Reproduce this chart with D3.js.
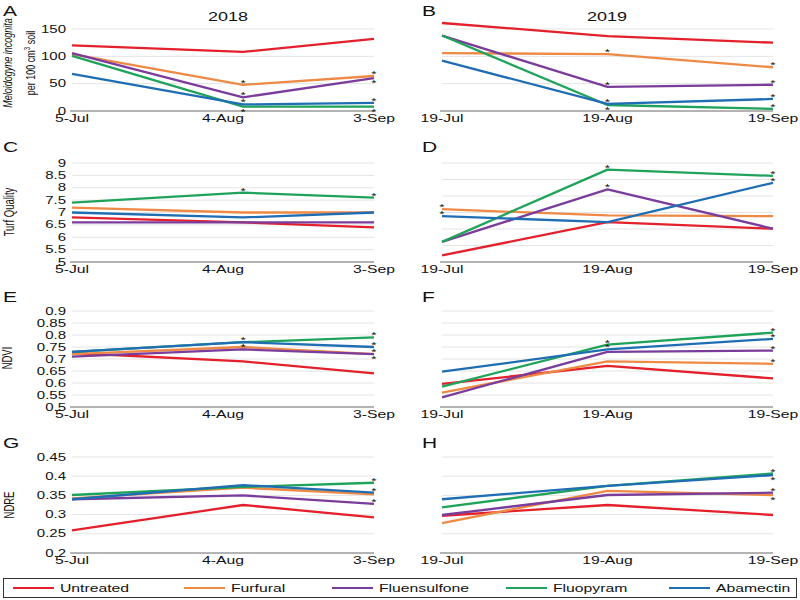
<!DOCTYPE html>
<html>
<head>
<meta charset="utf-8">
<script src="https://cdn.jsdelivr.net/npm/d3@7"></script>
<style>
  body { margin: 0; background: #fff; }
  svg { display: block; font-family: "Liberation Sans", Arial, sans-serif; }
</style>
</head>
<body>
<div id="chart"></div>
<script>
// treatments, drawn in this order
const treatments = ["Untreated", "Furfural", "Fluensulfone", "Fluopyram", "Abamectin"];
const colors = ["#e3202b", "#ee8a46", "#7a3d9b", "#1fa35a", "#1f6eb4"];

// sampling dates (tick labels) and day offsets of the samplings
const dates2018 = ["5-Jul", "4-Aug", "3-Sep"];
const dates2019 = ["19-Jul", "19-Aug", "19-Sep"];
const sampleDay2018 = [0, 34, 60];
const sampleDay2019 = [0, 31, 62];

// values per treatment (rows in treatment order)
const nematode2018 = [[120, 108, 132], [104, 48, 64], [106, 25, 60], [101, 8, 8], [68, 12, 15]];
const nematode2019 = [[161, 137, 125], [106, 104, 80], [138, 44, 48], [138, 11, 4], [92, 13, 22]];
const turf2018 = [[6.8, 6.6, 6.4], [7.2, 7.0, 7.0], [6.6, 6.6, 6.6], [7.4, 7.8, 7.6], [7.0, 6.8, 7.0]];
const turf2019 = [[5.2, 6.21, 6.01], [6.6, 6.41, 6.39], [5.61, 7.2, 6.01], [5.61, 7.8, 7.61], [6.39, 6.21, 7.4]];
const ndvi2018 = [[0.725, 0.69, 0.64], [0.72, 0.75, 0.72], [0.71, 0.74, 0.72], [0.73, 0.77, 0.79], [0.73, 0.77, 0.75]];
const ndvi2019 = [[0.596, 0.671, 0.619], [0.56, 0.69, 0.68], [0.54, 0.73, 0.735], [0.585, 0.76, 0.81], [0.647, 0.74, 0.784]];
const ndre2018 = [[0.259, 0.325, 0.293], [0.342, 0.37, 0.353], [0.34, 0.35, 0.328], [0.351, 0.372, 0.383], [0.34, 0.377, 0.357]];
const ndre2019 = [[0.297, 0.325, 0.299], [0.278, 0.362, 0.351], [0.299, 0.351, 0.357], [0.319, 0.375, 0.407], [0.34, 0.375, 0.403]];

// significance marks: [treatment, sampling, side (-1 above the line, 1 below)]
const nematodeStars2018 = [[1, 1, -1], [2, 1, -1], [4, 1, -1], [3, 1, 1], [1, 2, -1], [2, 2, 1], [4, 2, -1], [3, 2, 1]];
const nematodeStars2019 = [[1, 1, -1], [2, 1, -1], [4, 1, -1], [3, 1, 1], [1, 2, -1], [2, 2, -1], [4, 2, -1], [3, 2, -1]];
const turfStars2018 = [[3, 1, -1], [3, 2, -1]];
const turfStars2019 = [[1, 0, -1], [4, 0, -1], [3, 1, -1], [2, 1, -1], [3, 2, -1], [4, 2, -1]];
const ndviStars2018 = [[4, 1, -1], [2, 1, -1], [3, 2, -1], [4, 2, -1], [1, 2, -1], [2, 2, 1]];
const ndviStars2019 = [[3, 1, -1], [4, 1, -1], [3, 2, -1], [4, 2, -1], [2, 2, -1], [1, 2, -1]];
const ndreStars2018 = [[3, 2, -1], [4, 2, -1], [2, 2, -1]];
const ndreStars2019 = [[3, 2, -1], [4, 2, 1], [2, 2, -1], [1, 2, 1]];

const nematodeTicks = [0, 50, 100, 150];
const turfTicks = [5, 5.5, 6, 6.5, 7, 7.5, 8, 8.5, 9];
const turfTicks2019 = [5, 5.5, 6, 6.5, 7, 7.5, 8];
const ndviTicks = [0.5, 0.55, 0.6, 0.65, 0.7, 0.75, 0.8, 0.85, 0.9];
const ndreTicks = [0.2, 0.25, 0.3, 0.35, 0.4, 0.45];

const W = 800, H = 600;
const SX = 1.5; // the figure is stretched horizontally

const svg = d3.select("#chart").append("svg").attr("width", W).attr("height", H);

const columns = [
  { range: [72, 374], dates: dates2018, days: sampleDay2018, letterX: 3, showY: true },
  { range: [442, 773], dates: dates2019, days: sampleDay2019, letterX: 422, showY: false }
];

const rows = [
  { top: 29, bottom: 111, letterY: 16, panels: [
    { id: "A", values: nematode2018, stars: nematodeStars2018, ticks: nematodeTicks },
    { id: "B", values: nematode2019, stars: nematodeStars2019, ticks: nematodeTicks } ] },
  { top: 163, bottom: 262, letterY: 152, panels: [
    { id: "C", values: turf2018, stars: turfStars2018, ticks: turfTicks },
    { id: "D", values: turf2019, stars: turfStars2019, ticks: turfTicks2019 } ] },
  { top: 311, bottom: 407, letterY: 302, panels: [
    { id: "E", values: ndvi2018, stars: ndviStars2018, ticks: ndviTicks },
    { id: "F", values: ndvi2019, stars: ndviStars2019, ticks: ndviTicks } ] },
  { top: 457, bottom: 553, letterY: 448, panels: [
    { id: "G", values: ndre2018, stars: ndreStars2018, ticks: ndreTicks },
    { id: "H", values: ndre2019, stars: ndreStars2019, ticks: ndreTicks } ] }
];

// horizontally stretched text
function stext(parent, x, y, s, size, anchor) {
  return parent.append("text")
      .attr("transform", `translate(${x},${y}) scale(${SX},1)`)
      .attr("text-anchor", anchor || "start")
      .attr("font-size", size)
      .attr("fill", "#111")
      .text(s);
}

// rotated text, stretched across its height
function vtext(parent, x, y, size) {
  return parent.append("text")
      .attr("transform", `translate(${x},${y}) rotate(-90) scale(1,${SX})`)
      .attr("text-anchor", "middle")
      .attr("font-size", size)
      .attr("fill", "#111");
}

const fmt = v => String(+v.toFixed(2));

rows.forEach(row => {
  row.panels.forEach((p, ci) => {
    const col = columns[ci];
    const g = svg.append("g");
    const x = d3.scaleLinear().domain(d3.extent(col.days)).range(col.range);
    const xl = d3.scalePoint().domain(col.dates).range(col.range);
    const y = d3.scaleLinear().domain(d3.extent(p.ticks)).range([row.bottom, row.top]);

    // grid lines
    g.selectAll(".grid").data(p.ticks.slice(1)).enter().append("line")
        .attr("x1", col.range[0]).attr("x2", col.range[1])
        .attr("y1", d => y(d)).attr("y2", d => y(d))
        .attr("stroke", "#e4e4e4").attr("stroke-width", 1);

    // baseline
    g.append("line")
        .attr("x1", col.range[0] - 2).attr("x2", col.range[1])
        .attr("y1", row.bottom).attr("y2", row.bottom)
        .attr("stroke", "#9a9a9a").attr("stroke-width", 1.5);

    if (col.showY) {
      p.ticks.forEach(t => stext(g, col.range[0] - 6, y(t) + 3.5, fmt(t), 10, "end"));
    }
    col.dates.forEach(d => stext(g, xl(d), row.bottom + 11, d, 10.5, "middle"));

    stext(g, col.letterX, row.letterY, p.id, 14);

    const line = d3.line().x((v, i) => x(col.days[i])).y(v => y(v));
    g.selectAll(".series").data(p.values).enter().append("path")
        .attr("d", line)
        .attr("fill", "none")
        .attr("stroke", (d, i) => colors[i])
        .attr("stroke-width", 2.3)
        .attr("stroke-linejoin", "round");

    p.stars.forEach(([s, k, side]) => {
      const py = y(p.values[s][k]);
      stext(g, x(col.days[k]), side < 0 ? py + 1 : py + 8, "*", 9, "middle");
    });
  });
});

// year titles
stext(svg, 228, 21, "2018", 12, "middle");
stext(svg, 607, 21, "2019", 12, "middle");

// y-axis titles
const t1 = vtext(svg, 12, 63, 9).attr("font-style", "italic");
t1.text("Meloidogyne incognita");
const t2 = vtext(svg, 35, 63, 9);
t2.append("tspan").text("per 100 cm");
t2.append("tspan").attr("dy", -3.5).attr("font-size", 6).text("3");
t2.append("tspan").attr("dy", 3.5).text(" soil");
vtext(svg, 14, 212, 9.5).text("Turf Quality");
vtext(svg, 12, 358, 9.5).text("NDVI");
vtext(svg, 14, 505, 9.5).text("NDRE");

// legend
const legendX = [13, 184, 332, 506, 669];
const legend = svg.append("g");
legend.append("rect")
    .attr("x", 3.5).attr("y", 578.5).attr("width", 793).attr("height", 19)
    .attr("fill", "#fff").attr("stroke", "#333").attr("stroke-width", 1);
treatments.forEach((name, i) => {
  legend.append("line")
      .attr("x1", legendX[i]).attr("x2", legendX[i] + 41)
      .attr("y1", 588).attr("y2", 588)
      .attr("stroke", colors[i]).attr("stroke-width", 2);
  stext(legend, legendX[i] + 47, 592, name, 10.5);
});
</script>
</body>
</html>
